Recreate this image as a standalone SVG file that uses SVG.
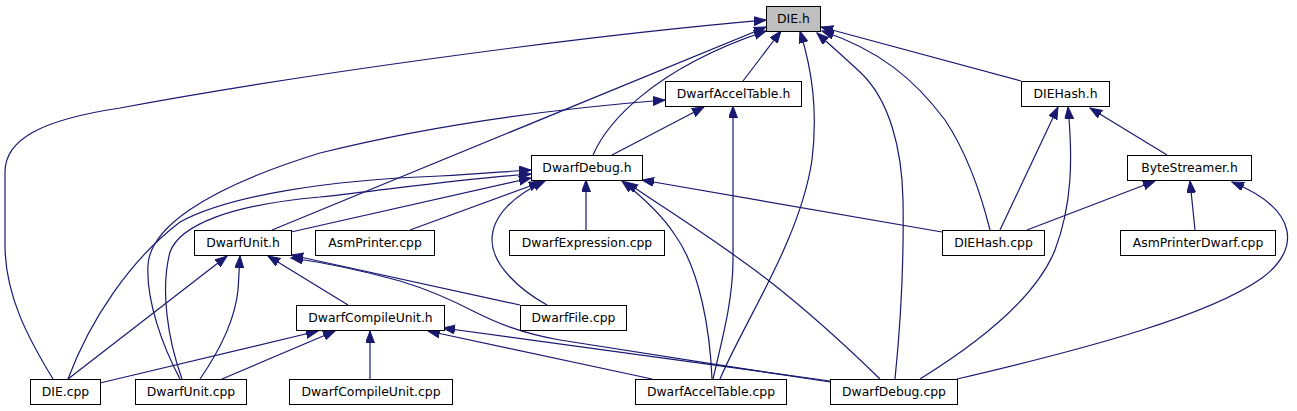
<svg xmlns="http://www.w3.org/2000/svg" width="1297" height="411" viewBox="0 0 1297 411">
<style>
.n rect{fill:#fff;stroke:#000;stroke-width:1}
.n.root rect{fill:#bfbfbf}
.n text{font-family:"DejaVu Sans","Liberation Sans",sans-serif;font-size:12.4px;text-anchor:middle;fill:#000}
#edges path{fill:none;stroke:#191970;stroke-width:1.2;marker-end:url(#ah)}
</style>
<defs>
<marker id="ah" markerUnits="userSpaceOnUse" markerWidth="14" markerHeight="10" refX="12" refY="4.5" orient="auto" viewBox="0 0 14 10">
<path d="M0,0 L12,4.5 L0,9 z" fill="#191970" stroke="#191970" stroke-width="1"/>
</marker>
</defs>
<rect width="1297" height="411" fill="#fff"/>
<g id="edges">
<!-- to DIE.h -->
<path d="M53,379 C28,338 5,295 5,245 L5,172 C5,140 40,120 120,108 C280,78 560,38 766,20"/>
<path d="M272,230 L766,27"/>
<path d="M593,155 C606,125 650,70 766,31"/>
<path d="M743,81 L781,31"/>
<path d="M720,379 C745,320 800,240 812,160 C818,110 812,70 800,31"/>
<path d="M895,379 C900,330 904,260 903,200 C902,150 890,100 860,72 C845,58 830,45 817,33"/>
<path d="M990,230 C980,190 965,150 945,120 C915,80 880,50 822,31"/>
<path d="M1021,81 L821,27"/>
<!-- to DwarfAccelTable.h -->
<path d="M612,155 L704,107"/>
<path d="M713,379 C722,340 733,300 733,260 L733,106"/>
<path d="M180,379 C162,345 146,300 148,265 C150,230 200,190 320,153 C420,128 540,110 665,100"/>
<!-- to DIEHash.h -->
<path d="M1000,230 L1058,107"/>
<path d="M920,379 C975,345 1035,300 1055,250 C1072,205 1073,160 1068,107"/>
<path d="M1167,155 L1090,108"/>
<!-- to ByteStreamer.h -->
<path d="M1027,230 L1155,181"/>
<path d="M1195,230 L1190,181"/>
<path d="M957,379 C1090,348 1210,315 1262,278 C1300,250 1300,210 1232,182"/>
<!-- to DwarfDebug.h -->
<path d="M68,379 C90,320 130,260 180,222 C230,195 330,180 440,176 C480,174 510,171 531,170"/>
<path d="M182,379 C168,340 160,290 170,252 C180,225 230,205 320,197 C400,188 470,178 531,174"/>
<path d="M291,232 L531,178"/>
<path d="M410,230 L541,182"/>
<path d="M586,230 L586,180"/>
<path d="M547,305 C520,290 492,265 492,240 C492,215 515,195 545,181"/>
<path d="M712,379 C710,330 700,270 675,235 C660,212 640,195 622,181"/>
<path d="M880,379 C840,340 800,305 768,280 C720,243 670,212 626,182"/>
<path d="M942,232 L642,180"/>
<!-- to DwarfUnit.h -->
<path d="M68,379 L227,256"/>
<path d="M200,379 C220,350 235,320 238,290 L240,256"/>
<path d="M348,305 L268,256"/>
<path d="M520,305 L291,255"/>
<path d="M830,382 C740,368 620,350 560,340 C520,333 495,322 475,312 C450,299 430,290 400,281 C360,270 320,262 291,258"/>
<!-- to DwarfCompileUnit.h -->
<path d="M100,383 L318,331"/>
<path d="M222,379 L335,331"/>
<path d="M370,379 L370,331"/>
<path d="M652,379 L428,331"/>
<path d="M830,381 L443,328"/>
</g>
<g id="DIE_h" class="n root"><rect x="766.5" y="6.5" width="54" height="25"/><text x="793.5" y="23">DIE.h</text></g>
<g id="DwarfAccelTable_h" class="n"><rect x="665.5" y="81.5" width="136" height="25"/><text x="733.5" y="98">DwarfAccelTable.h</text></g>
<g id="DIEHash_h" class="n"><rect x="1021.5" y="81.5" width="88" height="25"/><text x="1065.5" y="98">DIEHash.h</text></g>
<g id="DwarfDebug_h" class="n"><rect x="531.5" y="155.5" width="111" height="25"/><text x="587" y="172">DwarfDebug.h</text></g>
<g id="ByteStreamer_h" class="n"><rect x="1127.5" y="155.5" width="124" height="25"/><text x="1189.5" y="172">ByteStreamer.h</text></g>
<g id="DwarfUnit_h" class="n"><rect x="194.5" y="230.5" width="97" height="25"/><text x="243" y="247">DwarfUnit.h</text></g>
<g id="AsmPrinter_cpp" class="n"><rect x="315.5" y="230.5" width="119" height="25"/><text x="375" y="247">AsmPrinter.cpp</text></g>
<g id="DwarfExpression_cpp" class="n"><rect x="509.5" y="230.5" width="155" height="25"/><text x="587" y="247">DwarfExpression.cpp</text></g>
<g id="DIEHash_cpp" class="n"><rect x="942.5" y="230.5" width="102" height="25"/><text x="993.5" y="247">DIEHash.cpp</text></g>
<g id="AsmPrinterDwarf_cpp" class="n"><rect x="1120.5" y="230.5" width="155" height="25"/><text x="1198" y="247">AsmPrinterDwarf.cpp</text></g>
<g id="DwarfCompileUnit_h" class="n"><rect x="296.5" y="305.5" width="148" height="25"/><text x="370.5" y="322">DwarfCompileUnit.h</text></g>
<g id="DwarfFile_cpp" class="n"><rect x="520.5" y="305.5" width="106" height="25"/><text x="573.5" y="322">DwarfFile.cpp</text></g>
<g id="DIE_cpp" class="n"><rect x="30.5" y="379.5" width="70" height="25"/><text x="65.5" y="396">DIE.cpp</text></g>
<g id="DwarfUnit_cpp" class="n"><rect x="135.5" y="379.5" width="111" height="25"/><text x="191" y="396">DwarfUnit.cpp</text></g>
<g id="DwarfCompileUnit_cpp" class="n"><rect x="289.5" y="379.5" width="163" height="25"/><text x="371" y="396">DwarfCompileUnit.cpp</text></g>
<g id="DwarfAccelTable_cpp" class="n"><rect x="635.5" y="379.5" width="151" height="25"/><text x="711" y="396">DwarfAccelTable.cpp</text></g>
<g id="DwarfDebug_cpp" class="n"><rect x="830.5" y="379.5" width="127" height="25"/><text x="894" y="396">DwarfDebug.cpp</text></g>
</svg>
